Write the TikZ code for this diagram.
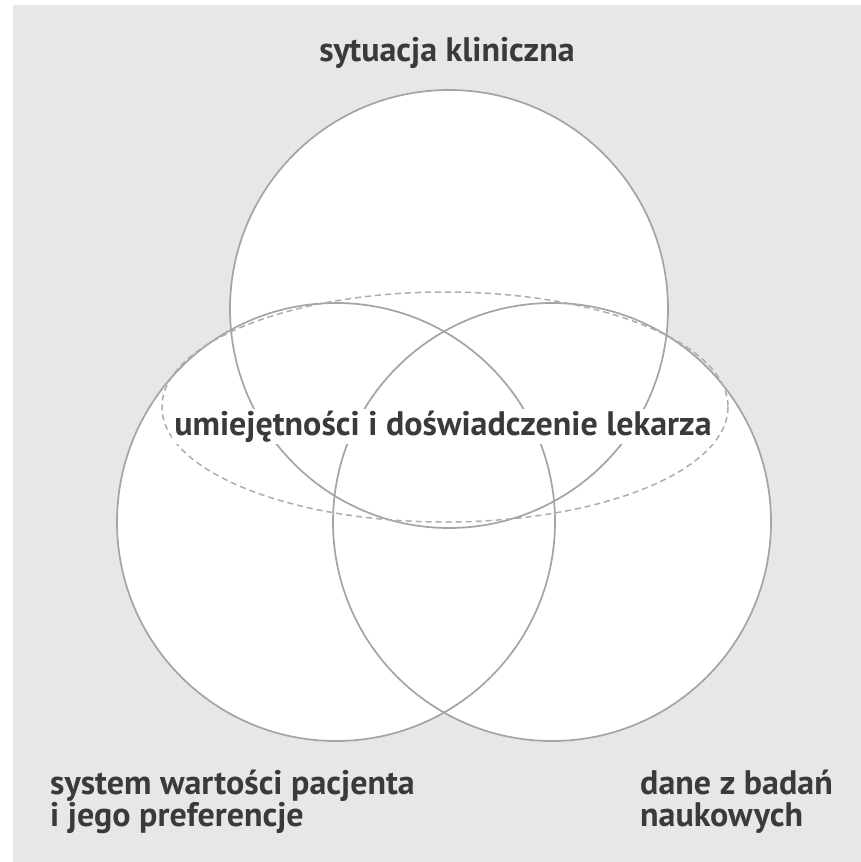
\documentclass[tikz,border=0pt]{standalone}
\usepackage{fontspec}
\setmainfont{PT Sans}
\definecolor{bggray}{HTML}{E6E7E8}
\definecolor{linegray}{HTML}{A4A4A4}
\definecolor{dashgray}{HTML}{ADADAD}
\definecolor{txtgray}{HTML}{3A3A3A}
\tikzset{
  setcircle/.style={draw=linegray, line width=1.7pt},
  lbl/.style={text=txtgray, font=\fontsize{34}{38}\bfseries\selectfont, inner sep=0pt, anchor=base west, align=left},
  midlbl/.style={text=txtgray, font=\fontsize{34}{38}\bfseries\selectfont, fill=white, inner sep=2pt, anchor=base},
}
\begin{document}
\begin{tikzpicture}[x=1pt,y=-1pt]
\useasboundingbox (0,0) rectangle (861,862);
\fill[white] (0,0) rectangle (861,862);
\fill[bggray] (13,5) rectangle (861,862);
% circle fills
\fill[white] (449,309) circle (219);
\fill[white] (336,522) circle (219);
\fill[white] (552,522) circle (219);
% circle outlines
\draw[setcircle] (449,309) circle (219);
\draw[setcircle] (336,522) circle (219);
\draw[setcircle] (552,522) circle (219);
% dashed ellipse
\draw[draw=dashgray, line width=1.5pt, dash pattern=on 6pt off 4pt] (445,407) ellipse [x radius=283, y radius=115];
% labels
\node[midlbl] (mid) at (443,435) {umiejętności i doświadczenie lekarza};
\node[lbl, anchor=base] (top) at (447,61) {sytuacja kliniczna};
\node[lbl] (bl1) at (50,794) {system wartości pacjenta};
\node[lbl] (bl2) at (50,826) {i jego preferencje};
\node[lbl] (br1) at (640,794) {dane z badań};
\node[lbl] (br2) at (640,826) {naukowych};
\end{tikzpicture}
\end{document}
